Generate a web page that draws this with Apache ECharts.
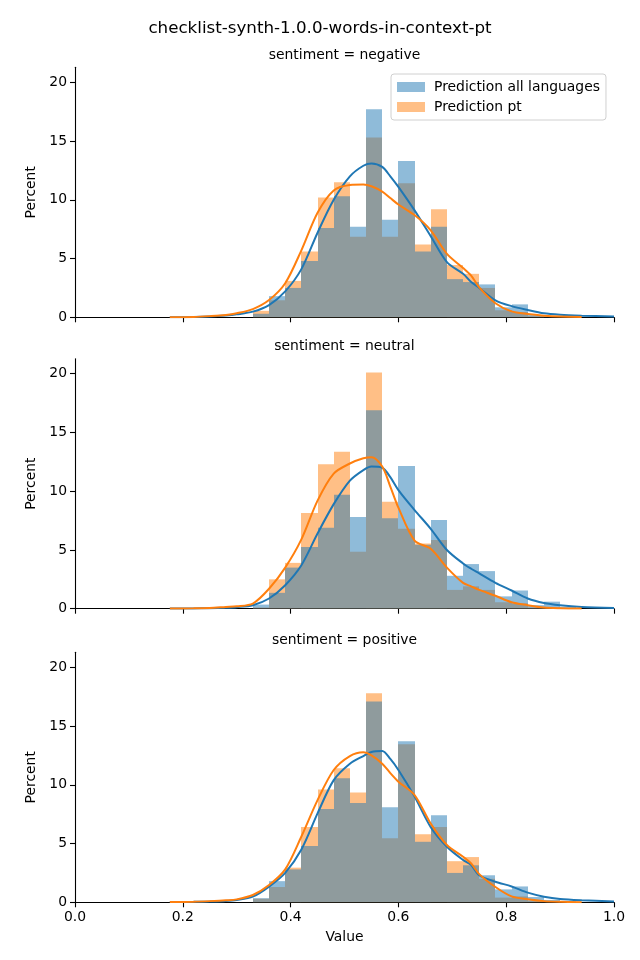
<!DOCTYPE html>
<html>
<head>
<meta charset="utf-8">
<script src="https://cdn.jsdelivr.net/npm/echarts@6/dist/echarts.min.js"></script>
<style>
html,body{margin:0;padding:0;background:#fff;}
#chart{width:640px;height:960px;}
</style>
</head>
<body>
<div id="chart"></div>
<script>
// ---------------- data ----------------
const chartTitle = 'checklist-synth-1.0.0-words-in-context-pt';
const panelTitles = ['sentiment = negative', 'sentiment = neutral', 'sentiment = positive'];
const seriesNames = ['Prediction all languages', 'Prediction pt'];
const xTicks = [0.0, 0.2, 0.4, 0.6, 0.8, 1.0];
const yTicks = [0, 5, 10, 15, 20];

// histogram bin left edges, bin width
const binStarts = [0.33, 0.36, 0.39, 0.42, 0.45, 0.48, 0.51, 0.54, 0.57, 0.60, 0.63, 0.66, 0.69, 0.72, 0.75, 0.78, 0.81, 0.84, 0.87, 0.90];
const binWidth = 0.03;

// percent per bin
const negAll = [0.3, 1.8, 2.5, 4.8, 7.6, 10.3, 7.7, 17.7, 8.3, 13.3, 5.6, 7.7, 3.25, 3.0, 2.8, 0.85, 1.1, 0.2, 0.1, 0.05];
const negPt  = [0.55, 1.45, 3.1, 5.6, 10.2, 11.5, 6.85, 15.3, 6.85, 11.4, 6.2, 9.2, 4.45, 3.7, 2.5, 0.6, 0.45, 0.1, 0.0, 0.0];
const neuAll = [0.35, 1.35, 3.5, 5.25, 6.9, 9.7, 7.8, 16.9, 7.7, 12.15, 5.45, 7.55, 2.8, 3.8, 3.2, 1.05, 1.55, 0.3, 0.6, 0.15];
const neuPt  = [0.1, 2.5, 3.9, 8.15, 12.3, 13.35, 4.85, 20.1, 9.1, 6.8, 5.55, 5.85, 1.6, 1.9, 1.6, 0.55, 0.45, 0.1, 0.1, 0.0];
const posAll = [0.35, 1.8, 2.8, 4.8, 7.95, 10.55, 8.45, 17.1, 8.1, 13.7, 5.15, 7.4, 2.5, 3.15, 2.3, 1.1, 1.35, 0.45, 0.2, 0.1];
const posPt  = [0.3, 1.3, 2.95, 6.4, 9.6, 11.4, 9.35, 17.8, 5.45, 13.45, 5.8, 6.4, 3.5, 3.85, 2.0, 0.4, 0.5, 0.1, 0.05, 0.0];

// KDE curves
const kdeX = [0.176, 0.22, 0.25, 0.28, 0.30, 0.33, 0.36, 0.39, 0.42, 0.45, 0.48, 0.51, 0.535, 0.55, 0.57, 0.585, 0.60, 0.63, 0.66, 0.69, 0.72, 0.735, 0.75, 0.78, 0.81, 0.84, 0.87, 0.90, 0.94, 1.0];
const negAllKde = [0.01, 0.02, 0.06, 0.15, 0.25, 0.48, 1.04, 2.2, 4.1, 7.2, 10.0, 12.0, 12.9, 13.1, 12.8, 12.0, 11.1, 9.1, 6.9, 4.7, 3.7, 3.0, 2.5, 1.45, 0.95, 0.62, 0.34, 0.22, 0.14, 0.06];
const negPtKde  = [0.01, 0.03, 0.1, 0.2, 0.34, 0.7, 1.47, 2.9, 5.7, 8.9, 10.8, 11.26, 11.3, 11.15, 10.7, 10.15, 9.6, 8.7, 7.4, 5.4, 4.2, 3.55, 2.55, 1.2, 0.5, 0.28, 0.14, 0.06, 0.02, null];
const neuAllKde = [0.01, 0.02, 0.04, 0.08, 0.13, 0.3, 0.87, 2.0, 3.7, 6.4, 8.9, 10.9, 11.8, 12.1, 12.0, 11.2, 10.1, 8.4, 6.8, 5.0, 3.85, 3.4, 3.0, 2.2, 1.55, 0.87, 0.49, 0.3, 0.15, 0.05];
const neuPtKde  = [0.01, 0.03, 0.07, 0.15, 0.2, 0.44, 1.7, 3.5, 5.9, 9.2, 11.5, 12.36, 12.8, 12.9, 12.1, 10.4, 8.6, 5.8, 5.1, 3.5, 2.2, 1.9, 1.6, 1.1, 0.55, 0.3, 0.1, 0.04, 0.01, null];
const posAllKde = [0.02, 0.04, 0.07, 0.12, 0.2, 0.48, 1.33, 2.5, 4.5, 7.57, 10.4, 11.8, 12.45, 12.8, 12.88, 12.2, 11.26, 9.0, 6.4, 4.73, 3.6, 3.17, 2.3, 1.75, 1.35, 0.82, 0.48, 0.28, 0.17, 0.07];
const posPtKde  = [0.02, 0.05, 0.1, 0.17, 0.25, 0.62, 1.47, 2.8, 5.6, 8.7, 11.26, 12.45, 12.77, 12.5, 11.8, 11.0, 10.27, 9.13, 6.7, 4.88, 3.88, 3.3, 2.4, 1.3, 0.5, 0.26, 0.1, 0.04, 0.01, null];

// ---------------- chart ----------------
const FONT = 'DejaVu Sans';
const BLUE = '#1f77b4', ORANGE = '#ff7f0e';
const panels = [
  {all: negAll, pt: negPt, allKde: negAllKde, ptKde: negPtKde},
  {all: neuAll, pt: neuPt, allKde: neuAllKde, ptKde: neuPtKde},
  {all: posAll, pt: posPt, allKde: posAllKde, ptKde: posPtKde}
];
const gridTops = [67.3, 358.7, 652.3];
const gridH = 250;
const Y_MAX = 21.28;

const grids = [], xAxes = [], yAxes = [], series = [], graphics = [];
function histData(vals) {
  return binStarts.map((s, i) => [s, s + binWidth, vals[i]]);
}
function kdeData(vals) {
  const out = [];
  kdeX.forEach((x, i) => { if (vals[i] !== null) out.push([x, vals[i]]); });
  return out;
}
function renderBar(color) {
  return function (params, api) {
    const p0 = api.coord([api.value(0), api.value(2)]);
    const p1 = api.coord([api.value(1), 0]);
    const x0 = Math.round(p0[0]), x1 = Math.round(p1[0]);
    return {
      type: 'rect',
      shape: {x: x0, y: p0[1], width: x1 - x0, height: p1[1] - p0[1]},
      style: {fill: color, opacity: 0.5}
    };
  };
}

panels.forEach((p, k) => {
  grids.push({left: 75, width: 539, top: gridTops[k], height: gridH, containLabel: false});
  xAxes.push({
    type: 'value', gridIndex: k, min: 0, max: 1, interval: 0.2,
    axisLine: {show: true, lineStyle: {color: '#000', width: 1.1}},
    axisTick: {show: true, length: 5, lineStyle: {color: '#000', width: 1.1}},
    axisLabel: {show: k === 2, margin: 8, color: '#000', fontSize: 13.9, fontFamily: FONT,
      formatter: v => v.toFixed(1)},
    splitLine: {show: false},
    name: k === 2 ? 'Value' : '', nameLocation: 'middle', nameGap: 28,
    nameTextStyle: {color: '#000', fontSize: 13.9, fontFamily: FONT}
  });
  yAxes.push({
    type: 'value', gridIndex: k, min: 0, max: Y_MAX,
    axisLine: {show: true, lineStyle: {color: '#000', width: 1.1}},
    axisTick: {show: true, length: 5, lineStyle: {color: '#000', width: 1.1}, customValues: yTicks},
    axisLabel: {show: true, margin: 8, color: '#000', fontSize: 13.9, fontFamily: FONT, customValues: yTicks},
    splitLine: {show: false},
    name: 'Percent', nameLocation: 'middle', nameGap: 33, nameRotate: 90,
    nameTextStyle: {color: '#000', fontSize: 13.9, fontFamily: FONT}
  });
  // orange drawn first, blue on top (matches blended grey)
  series.push({
    type: 'custom', name: seriesNames[1], xAxisIndex: k, yAxisIndex: k,
    renderItem: renderBar(ORANGE), data: histData(p.pt), encode: {x: [0, 1], y: 2},
    itemStyle: {color: '#ffbf86'}, z: 1, silent: true
  });
  series.push({
    type: 'custom', name: seriesNames[0], xAxisIndex: k, yAxisIndex: k,
    renderItem: renderBar(BLUE), data: histData(p.all), encode: {x: [0, 1], y: 2},
    itemStyle: {color: '#8fbbd9'}, z: 2, silent: true
  });
  series.push({
    type: 'line', name: seriesNames[0] + ' kde', xAxisIndex: k, yAxisIndex: k,
    data: kdeData(p.allKde), smooth: 0.3, showSymbol: false, symbol: 'none',
    lineStyle: {color: BLUE, width: 2}, z: 5, silent: true
  });
  series.push({
    type: 'line', name: seriesNames[1] + ' kde', xAxisIndex: k, yAxisIndex: k,
    data: kdeData(p.ptKde), smooth: 0.3, showSymbol: false, symbol: 'none',
    lineStyle: {color: ORANGE, width: 2}, z: 5, silent: true
  });
  graphics.push({
    type: 'text', x: 344.5, y: gridTops[k] - 12,
    style: {text: panelTitles[k], fill: '#000', font: '13.9px "' + FONT + '"',
      textAlign: 'center', textVerticalAlign: 'middle'}
  });
});
graphics.push({
  type: 'text', x: 320, y: 28.5,
  style: {text: chartTitle, fill: '#000', font: '16.7px "' + FONT + '"',
    textAlign: 'center', textVerticalAlign: 'middle'}
});

const chart = echarts.init(document.getElementById('chart'), null, {renderer: 'canvas'});
chart.setOption({
  animation: false,
  backgroundColor: '#fff',
  grid: grids,
  xAxis: xAxes,
  yAxis: yAxes,
  series: series,
  graphic: graphics,
  legend: {
    orient: 'vertical', left: 391, top: 74,
    data: [
      {name: seriesNames[0], itemStyle: {color: '#8fbbd9'}},
      {name: seriesNames[1], itemStyle: {color: '#ffbf86'}}
    ],
    icon: 'rect', itemWidth: 28, itemHeight: 10, itemGap: 6,
    padding: [6, 6, 6, 6],
    borderColor: '#d0d0d0', borderWidth: 1, borderRadius: 3,
    backgroundColor: 'rgba(255,255,255,0.8)',
    textStyle: {color: '#000', fontSize: 13.9, fontFamily: FONT, padding: [0, 0, 0, 4]},
    selectedMode: false
  }
});
</script>
</body>
</html>
